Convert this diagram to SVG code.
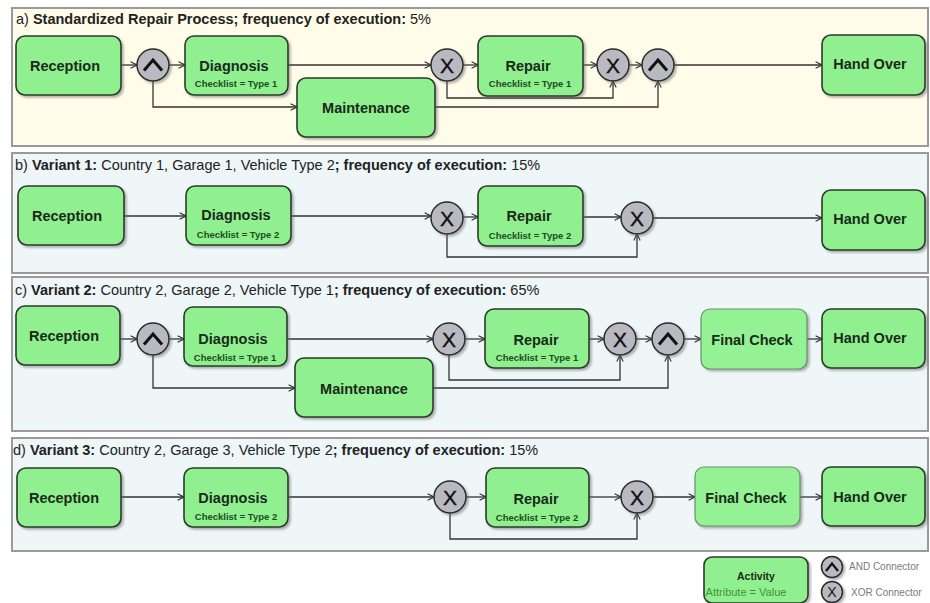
<svg xmlns="http://www.w3.org/2000/svg" width="930" height="603" viewBox="0 0 930 603">
<defs>
<style>
.panelA{fill:#fffde9;stroke:#9a9a9a;stroke-width:2}
.panelB{fill:#eef6f8;stroke:#9a9a9a;stroke-width:2}
.title{font-family:"Liberation Sans",Arial,sans-serif;font-size:14.5px;fill:#222}
.b{font-weight:bold}
.act{fill:#90f090;stroke:#2a3a2a;stroke-width:1.6;filter:url(#sh)}
.act2{fill:#94f294;stroke:#6a8f6a;stroke-width:1.2;filter:url(#sh)}
.lbl{font-family:"Liberation Sans",Arial,sans-serif;font-size:14.5px;font-weight:bold;fill:#1a2a1a;text-anchor:middle}
.attr{font-family:"Liberation Sans",Arial,sans-serif;font-size:9.5px;font-weight:bold;fill:#1d4d1d;text-anchor:middle}
.con{fill:#b9b9c1;stroke:#2a2a2a;stroke-width:1.5;filter:url(#sh)}
.xor{font-family:"Liberation Sans",Arial,sans-serif;font-size:21px;fill:#111;text-anchor:middle;stroke:#111;stroke-width:0.4}
.and{fill:none;stroke:#111;stroke-width:3;stroke-linejoin:miter}
.edge{fill:none;stroke:#333;stroke-width:1.3;marker-end:url(#arr)}
.leg{font-family:"Liberation Sans",Arial,sans-serif;font-size:10px;fill:#7a7a7a}
</style>
<filter id="sh" x="-20%" y="-20%" width="140%" height="140%">
<feDropShadow dx="2" dy="2" stdDeviation="1.2" flood-color="#666" flood-opacity="0.5"/>
</filter>
<marker id="arr" viewBox="0 0 10 10" refX="9" refY="5" markerWidth="8" markerHeight="8" markerUnits="userSpaceOnUse" orient="auto">
<path d="M1,1 L9,5 L1,9" fill="none" stroke="#333" stroke-width="1.4"/>
</marker>
</defs>

<g id="panels">
<rect class="panelA" x="12" y="8" width="916" height="138"/>
<rect class="panelB" x="12" y="153" width="916" height="120"/>
<rect class="panelB" x="12" y="277" width="916" height="154"/>
<rect class="panelB" x="12" y="438" width="916" height="113"/>
<text class="title" x="16" y="24">a) <tspan class="b">Standardized Repair Process; frequency of execution:</tspan> 5%</text>
<text class="title" x="15" y="170">b) <tspan class="b">Variant 1:</tspan> Country 1, Garage 1, Vehicle Type 2<tspan class="b">; frequency of execution:</tspan> 15%</text>
<text class="title" x="15" y="295">c) <tspan class="b">Variant 2:</tspan> Country 2, Garage 2, Vehicle Type 1<tspan class="b">; frequency of execution:</tspan> 65%</text>
<text class="title" x="13" y="455">d) <tspan class="b">Variant 3:</tspan> Country 2, Garage 3, Vehicle Type 2<tspan class="b">; frequency of execution:</tspan> 15%</text>
</g>

<g id="connectors">
<!-- a -->
<path class="edge" d="M121,65 H137"/>
<path class="edge" d="M169,65 H185"/>
<path class="edge" d="M153,81 V107 H297"/>
<path class="edge" d="M288,65 H431"/>
<path class="edge" d="M463,65 H478"/>
<path class="edge" d="M447,81 V98 H613 V81"/>
<path class="edge" d="M583,65 H597"/>
<path class="edge" d="M629,65 H642"/>
<path class="edge" d="M435,107 H658 V81"/>
<path class="edge" d="M674,65 H822"/>
<!-- b -->
<path class="edge" d="M124,216 H186"/>
<path class="edge" d="M291,216 H431"/>
<path class="edge" d="M463,217 H478"/>
<path class="edge" d="M447,234 V257 H637 V234"/>
<path class="edge" d="M583,217 H621"/>
<path class="edge" d="M653,218 H822"/>
<!-- c -->
<path class="edge" d="M120,339 H137"/>
<path class="edge" d="M169,339 H184"/>
<path class="edge" d="M153,355 V388 H295"/>
<path class="edge" d="M287,339 H433"/>
<path class="edge" d="M465,339 H485"/>
<path class="edge" d="M449,355 V380 H620 V355"/>
<path class="edge" d="M589,339 H604"/>
<path class="edge" d="M636,339 H652"/>
<path class="edge" d="M433,388 H668 V355"/>
<path class="edge" d="M684,339 H701"/>
<path class="edge" d="M807,339 H822"/>
<!-- d -->
<path class="edge" d="M121,497 H184"/>
<path class="edge" d="M288,497 H434"/>
<path class="edge" d="M466,497 H486"/>
<path class="edge" d="M450,513 V539 H637 V513"/>
<path class="edge" d="M589,497 H621"/>
<path class="edge" d="M653,497 H695"/>
<path class="edge" d="M800,497 H822"/>
</g>

<!-- panel a nodes -->
<g id="a-reception"><rect class="act" x="16" y="36" width="105" height="59" rx="9"/><text class="lbl" x="65" y="71">Reception</text></g>
<g id="a-and1"><circle class="con" cx="153" cy="65" r="16"/><polyline class="and" points="144,70.5 153,60 162,70.5"/></g>
<g id="a-diagnosis"><rect class="act" x="185" y="36" width="103" height="59" rx="9"/><text class="lbl" x="234" y="71">Diagnosis</text><text class="attr" x="236" y="87">Checklist = Type 1</text></g>
<g id="a-maintenance"><rect class="act" x="297" y="78" width="138" height="59" rx="9"/><text class="lbl" x="366" y="113">Maintenance</text></g>
<g id="a-xor1"><circle class="con" cx="447" cy="65" r="16"/><text class="xor" x="447" y="72.5">X</text></g>
<g id="a-repair"><rect class="act" x="478" y="36" width="105" height="60" rx="9"/><text class="lbl" x="528" y="71">Repair</text><text class="attr" x="530" y="87">Checklist = Type 1</text></g>
<g id="a-xor2"><circle class="con" cx="613" cy="65" r="16"/><text class="xor" x="613" y="72.5">X</text></g>
<g id="a-and2"><circle class="con" cx="658" cy="65" r="16"/><polyline class="and" points="649,70.5 658,60 667,70.5"/></g>
<g id="a-handover"><rect class="act" x="822" y="35" width="103" height="60" rx="9"/><text class="lbl" x="870" y="69">Hand Over</text></g>

<!-- panel b nodes -->
<g id="b-reception"><rect class="act" x="18" y="186" width="106" height="59" rx="9"/><text class="lbl" x="67" y="221">Reception</text></g>
<g id="b-diagnosis"><rect class="act" x="186" y="186" width="105" height="59" rx="9"/><text class="lbl" x="236" y="220">Diagnosis</text><text class="attr" x="238" y="238">Checklist = Type 2</text></g>
<g id="b-xor1"><circle class="con" cx="447" cy="218" r="16"/><text class="xor" x="447" y="225.5">X</text></g>
<g id="b-repair"><rect class="act" x="478" y="186" width="105" height="60" rx="9"/><text class="lbl" x="529" y="221">Repair</text><text class="attr" x="530" y="239">Checklist = Type 2</text></g>
<g id="b-xor2"><circle class="con" cx="637" cy="218" r="16"/><text class="xor" x="637" y="225.5">X</text></g>
<g id="b-handover"><rect class="act" x="822" y="190" width="103" height="60" rx="9"/><text class="lbl" x="870" y="224">Hand Over</text></g>

<!-- panel c nodes -->
<g id="c-reception"><rect class="act" x="16" y="306" width="104" height="59" rx="9"/><text class="lbl" x="64" y="341">Reception</text></g>
<g id="c-and1"><circle class="con" cx="153" cy="339" r="16"/><polyline class="and" points="144,344.5 153,334 162,344.5"/></g>
<g id="c-diagnosis"><rect class="act" x="184" y="307" width="103" height="59" rx="9"/><text class="lbl" x="233" y="344">Diagnosis</text><text class="attr" x="235" y="361">Checklist = Type 1</text></g>
<g id="c-maintenance"><rect class="act" x="295" y="358" width="138" height="59" rx="9"/><text class="lbl" x="364" y="394">Maintenance</text></g>
<g id="c-xor1"><circle class="con" cx="449" cy="339" r="16"/><text class="xor" x="449" y="346.5">X</text></g>
<g id="c-repair"><rect class="act" x="485" y="309" width="104" height="59" rx="9"/><text class="lbl" x="536" y="345">Repair</text><text class="attr" x="537" y="361">Checklist = Type 1</text></g>
<g id="c-xor2"><circle class="con" cx="620" cy="339" r="16"/><text class="xor" x="620" y="346.5">X</text></g>
<g id="c-and2"><circle class="con" cx="668" cy="339" r="16"/><polyline class="and" points="659,344.5 668,334 677,344.5"/></g>
<g id="c-finalcheck"><rect class="act2" x="701" y="309" width="106" height="60" rx="9"/><text class="lbl" x="752" y="345">Final Check</text></g>
<g id="c-handover"><rect class="act" x="822" y="309" width="103" height="59" rx="9"/><text class="lbl" x="870" y="343">Hand Over</text></g>

<!-- panel d nodes -->
<g id="d-reception"><rect class="act" x="17" y="468" width="104" height="59" rx="9"/><text class="lbl" x="64" y="503">Reception</text></g>
<g id="d-diagnosis"><rect class="act" x="184" y="468" width="104" height="59" rx="9"/><text class="lbl" x="233" y="503">Diagnosis</text><text class="attr" x="236" y="520">Checklist = Type 2</text></g>
<g id="d-xor1"><circle class="con" cx="450" cy="497" r="16"/><text class="xor" x="450" y="504.5">X</text></g>
<g id="d-repair"><rect class="act" x="486" y="468" width="103" height="59" rx="9"/><text class="lbl" x="536" y="504">Repair</text><text class="attr" x="537" y="521">Checklist = Type 2</text></g>
<g id="d-xor2"><circle class="con" cx="637" cy="497" r="16"/><text class="xor" x="637" y="504.5">X</text></g>
<g id="d-finalcheck"><rect class="act2" x="695" y="467" width="105" height="59" rx="9"/><text class="lbl" x="746" y="503">Final Check</text></g>
<g id="d-handover"><rect class="act" x="822" y="467" width="103" height="59" rx="9"/><text class="lbl" x="870" y="502">Hand Over</text></g>

<!-- legend -->
<g id="legend">
<rect class="act" x="704" y="557" width="104" height="46" rx="8"/>
<text x="756" y="580" font-family="Liberation Sans,Arial,sans-serif" font-size="10.5px" font-weight="bold" fill="#1a2a1a" text-anchor="middle">Activity</text>
<text x="746" y="596" font-family="Liberation Sans,Arial,sans-serif" font-size="11px" fill="#3f8f3f" text-anchor="middle">Attribute = Value</text>
<circle class="con" cx="832" cy="567" r="10.5"/><polyline points="826,571 832,563.5 838,571" fill="none" stroke="#111" stroke-width="2.2"/>
<text class="leg" x="849" y="570">AND Connector</text>
<circle class="con" cx="832" cy="592" r="10.5"/><text x="832" y="597" font-family="Liberation Sans,Arial,sans-serif" font-size="14px" fill="#111" text-anchor="middle">X</text>
<text class="leg" x="851" y="596">XOR Connector</text>
</g>
</svg>
